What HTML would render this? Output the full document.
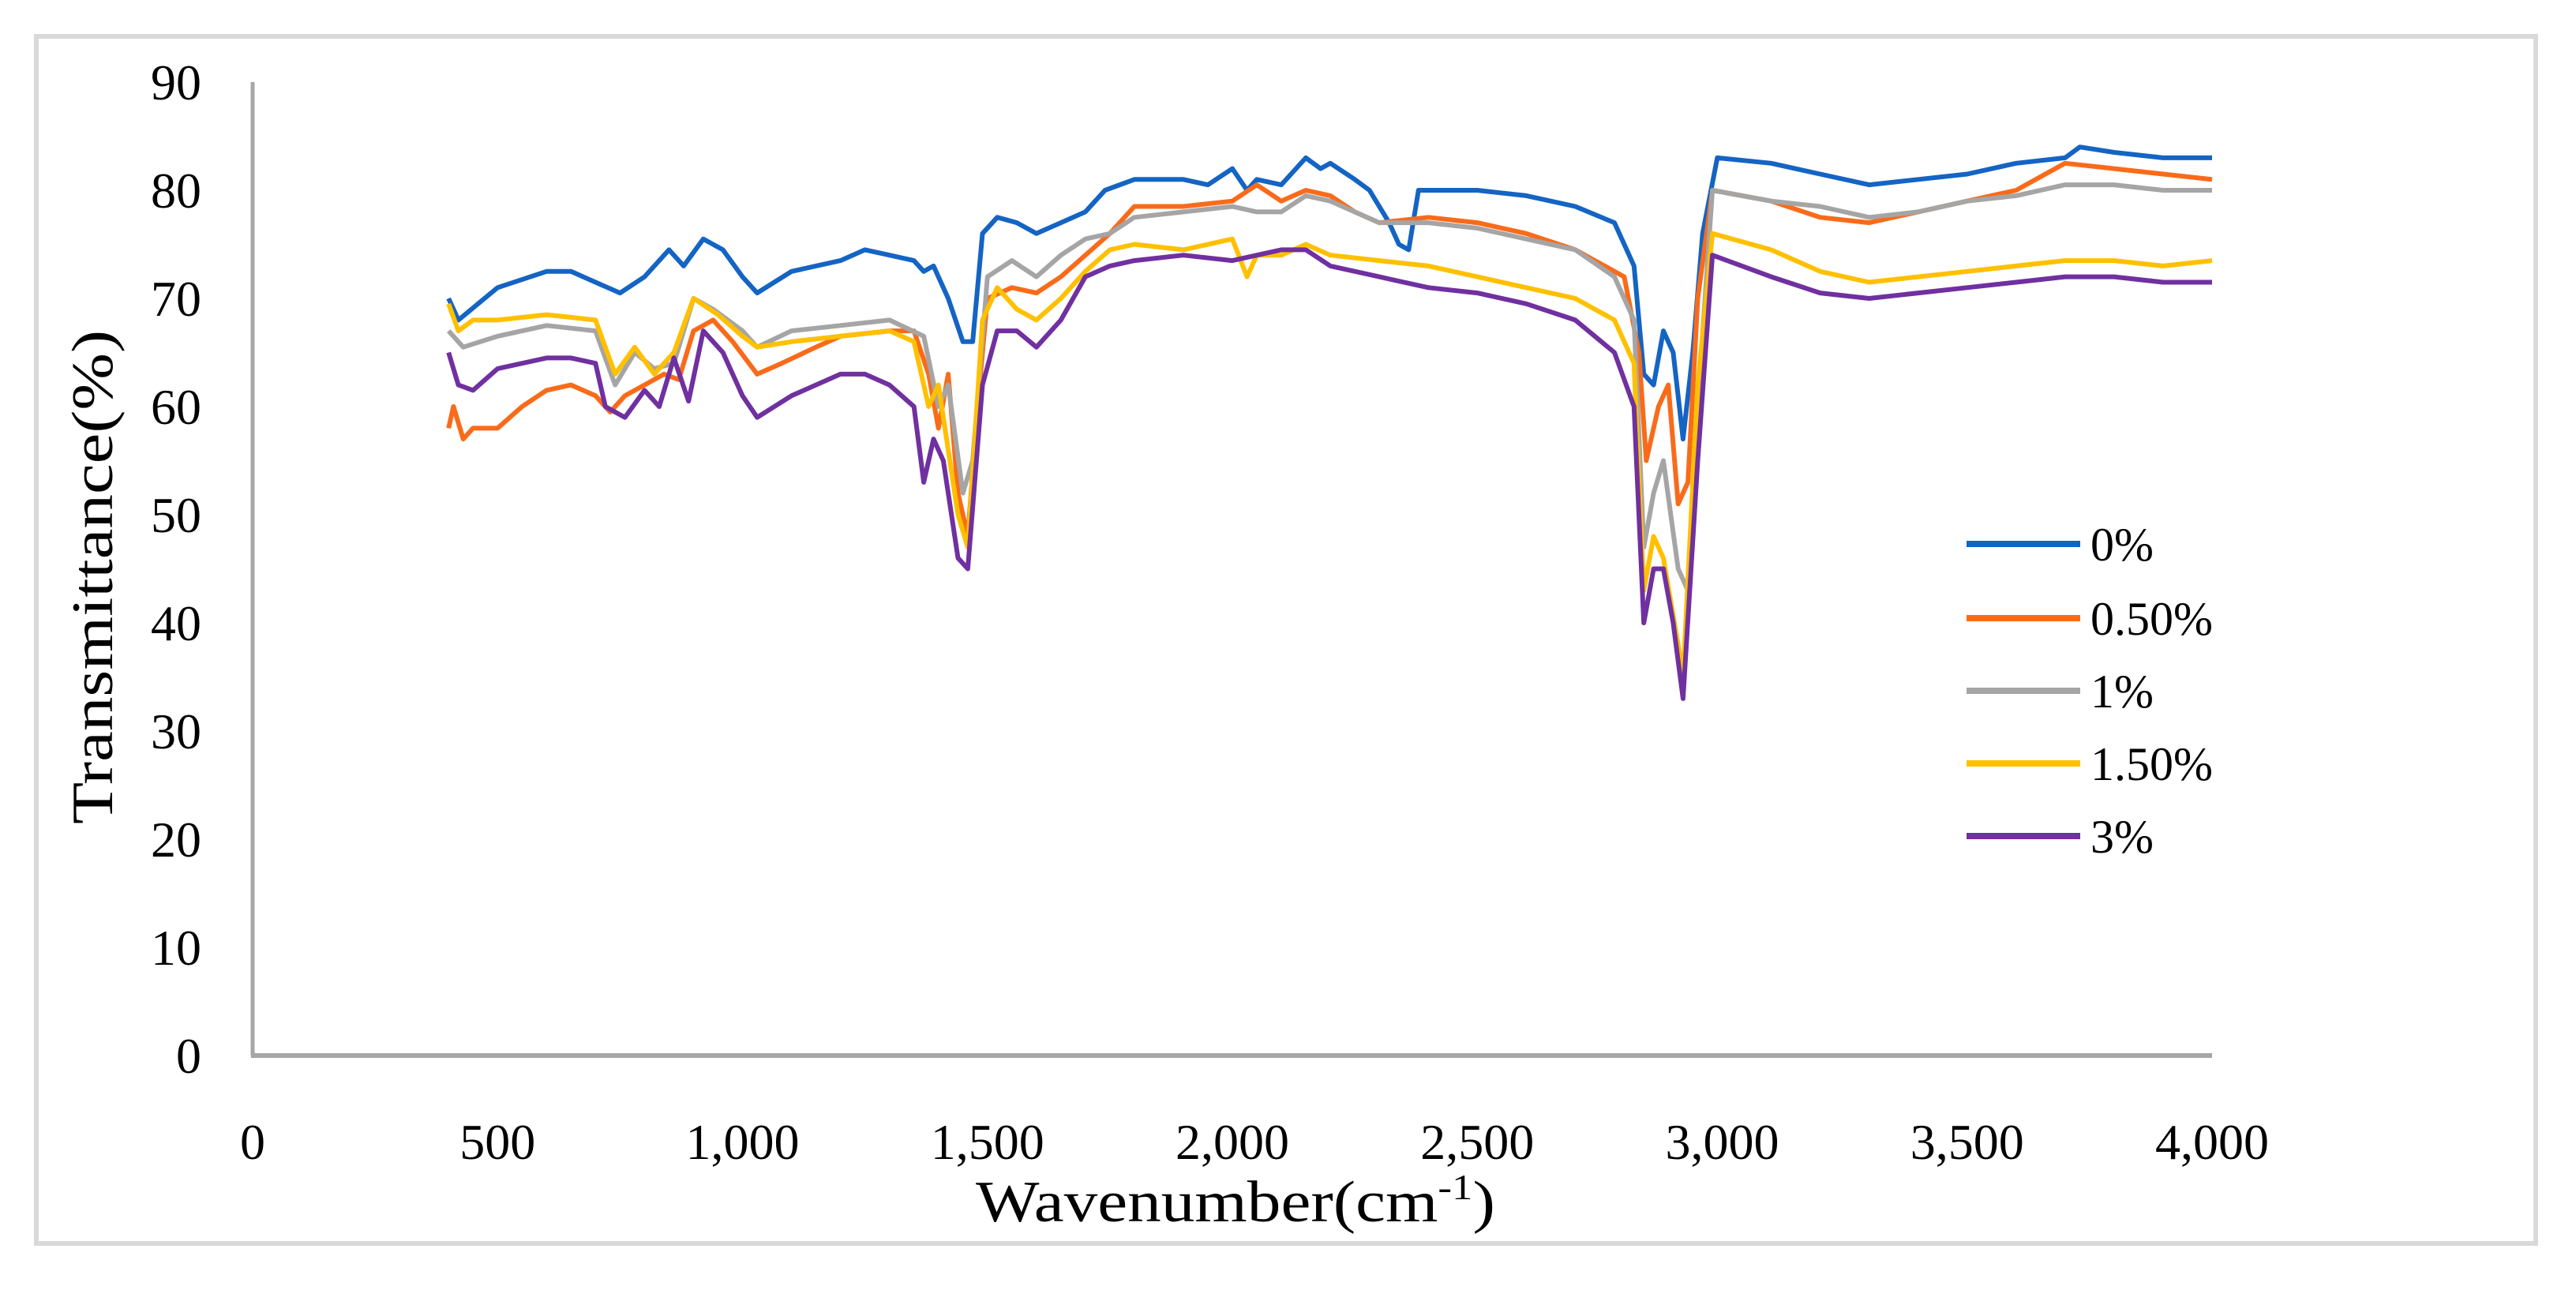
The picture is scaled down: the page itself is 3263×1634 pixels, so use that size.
<!DOCTYPE html>
<html><head><meta charset="utf-8"><style>
html,body{margin:0;padding:0;background:#fff;}
svg{display:block;}
text{font-family:"Liberation Serif",serif;fill:#000;}
</style></head><body>
<svg id="chart" width="3263" height="1634" viewBox="0 0 3263 1634" xmlns="http://www.w3.org/2000/svg">
<rect x="46" y="46" width="3166" height="1529" fill="#fff" stroke="#d9d9d9" stroke-width="6"/>
<g id="axes"></g>
<g id="series"></g>
<g id="legend"></g>
<text transform="translate(142,731) rotate(-90)" text-anchor="middle" font-size="74" textLength="626" lengthAdjust="spacingAndGlyphs">Transmittance(%)</text>
<text x="1236" y="1547" font-size="74" textLength="658" lengthAdjust="spacingAndGlyphs">Wavenumber(cm<tspan font-size="46" dy="-28">-1</tspan><tspan dy="28">)</tspan></text>
</svg>
<script>
const xTicks=[0,500,1000,1500,2000,2500,3000,3500,4000];
const xTickLabels=["0","500","1,000","1,500","2,000","2,500","3,000","3,500","4,000"];
const yTicks=[0,10,20,30,40,50,60,70,80,90];
const seriesNames=["0%","0.50%","1%","1.50%","3%"];
const seriesColors=["#1464c4","#f96b1a","#a5a5a5","#ffc000","#7030a0"];
const wn0=[400,420,500,600,650,700,750,800,850,880,920,960,1000,1030,1100,1200,1250,1300,1350,1370,1390,1420,1450,1470,1490,1520,1560,1600,1650,1700,1740,1800,1900,1950,2000,2030,2050,2100,2150,2180,2200,2250,2280,2320,2340,2360,2380,2500,2600,2700,2780,2820,2840,2860,2880,2900,2920,2940,2960,2990,3100,3200,3300,3400,3500,3600,3700,3730,3800,3900,4000];
const t0=[70,68,71,72.5,72.5,71.5,70.5,72,74.5,73,75.5,74.5,72,70.5,72.5,73.5,74.5,74,73.5,72.5,73,70,66,66,76,77.5,77,76,77,78,80,81,81,80.5,82,80,81,80.5,83,82,82.5,81,80,77,75,74.5,80,80,79.5,78.5,77,73,63,62,67,65,57,65,76,83,82.5,81.5,80.5,81,81.5,82.5,83,84,83.5,83,83];
const wn1=[400,410,430,450,500,550,600,650,700,730,760,800,840,870,900,940,980,1030,1080,1150,1200,1300,1350,1380,1400,1420,1440,1460,1480,1500,1550,1600,1650,1700,1750,1800,1900,2000,2050,2100,2150,2200,2250,2300,2400,2500,2600,2700,2800,2830,2845,2860,2870,2890,2910,2930,2950,2980,3100,3200,3300,3400,3500,3600,3700,3800,3900,4000];
const t1=[58,60,57,58,58,60,61.5,62,61,59.5,61,62,63,62.5,67,68,66,63,64,65.5,66.5,67,67,63,58,63,52,48,60,70,71,70.5,72,74,76,78.5,78.5,79,80.5,79,80,79.5,78,77,77.5,77,76,74.5,72,65,55,58,60,62,51,53,70,80,79,77.5,77,78,79,80,82.5,82,81.5,81];
const wn2=[400,430,500,600,700,740,780,820,860,900,940,1000,1030,1100,1200,1300,1370,1400,1420,1450,1470,1500,1550,1600,1650,1700,1750,1800,1900,2000,2050,2100,2150,2200,2300,2400,2500,2600,2700,2780,2820,2840,2860,2880,2910,2930,2950,2980,3100,3200,3300,3400,3500,3600,3700,3800,3900,4000];
const t2=[67,65.5,66.5,67.5,67,62,65,63.5,64,70,69,67,65.5,67,67.5,68,66.5,60,62,52,55,72,73.5,72,74,75.5,76,77.5,78,78.5,78,78,79.5,79,77,77,76.5,75.5,74.5,72,68,47,52,55,45,43,60,80,79,78.5,77.5,78,79,79.5,80.5,80.5,80,80];
const wn3=[400,420,450,500,600,700,740,780,820,860,900,950,1000,1030,1100,1200,1300,1350,1380,1400,1440,1460,1490,1520,1560,1600,1650,1700,1750,1800,1900,2000,2030,2050,2100,2150,2200,2300,2400,2500,2600,2700,2780,2820,2840,2860,2880,2910,2920,2950,2980,3100,3200,3300,3400,3500,3600,3700,3800,3900,4000];
const t3=[69.5,67,68,68,68.5,68,63,65.5,63,65,70,68.5,66.5,65.5,66,66.5,67,66,60,62,50,47,68,71,69,68,70,72.5,74.5,75,74.5,75.5,72,74,74,75,74,73.5,73,72,71,70,68,64,43,48,46,38,35,62,76,74.5,72.5,71.5,72,72.5,73,73.5,73.5,73,73.5];
const wn4=[400,420,450,500,600,650,700,720,760,800,830,860,890,920,960,1000,1030,1100,1200,1250,1300,1350,1370,1390,1410,1440,1460,1490,1520,1560,1600,1650,1700,1750,1800,1900,2000,2100,2150,2200,2300,2400,2500,2600,2700,2780,2820,2840,2860,2880,2900,2920,2950,2980,3100,3200,3300,3400,3500,3600,3700,3800,3900,4000];
const t4=[65,62,61.5,63.5,64.5,64.5,64,60,59,61.5,60,64.5,60.5,67,65,61,59,61,63,63,62,60,53,57,55,46,45,62,67,67,65.5,68,72,73,73.5,74,73.5,74.5,74.5,73,72,71,70.5,69.5,68,65,60,40,45,45,40,33,55,74,72,70.5,70,70.5,71,71.5,72,72,71.5,71.5];
const allX=[wn0,wn1,wn2,wn3,wn4];
const allY=[t0,t1,t2,t3,t4];

const NS="http://www.w3.org/2000/svg";
const X0=320,X1=2802,Y0=1337,Y1=104;
function sx(v){return X0+(v-0)/(4000-0)*(X1-X0);}
function sy(v){return Y0-(v-0)/(90-0)*(Y0-Y1);}
function mk(tag,attrs,parent){const e=document.createElementNS(NS,tag);for(const k in attrs)e.setAttribute(k,attrs[k]);parent.appendChild(e);return e;}
const axes=document.getElementById('axes');
let yl=mk('line',{x1:X0,y1:Y1,x2:X0,y2:Y0,stroke:'#a6a6a6','stroke-width':5},axes);


let xl=mk('line',{x1:X0-2,y1:Y0,x2:X1,y2:Y0,stroke:'#a6a6a6','stroke-width':6},axes);


yTicks.forEach(v=>{
  const t=mk('text',{x:255,y:sy(v)+22,'text-anchor':'end','font-size':64},axes);
  t.textContent=String(v);
  
  
});
xTicks.forEach((v,i)=>{
  const t=mk('text',{x:sx(v),y:1468,'text-anchor':'middle','font-size':64},axes);
  t.textContent=xTickLabels[i];
  
  
});
const sg=document.getElementById('series');
allX.forEach((xs,i)=>{
  const d=xs.map((x,j)=>(j?'L':'M')+sx(x).toFixed(1)+','+sy(allY[i][j]).toFixed(1)).join(' ');
  const p=mk('path',{d:d,fill:'none',stroke:seriesColors[i],'stroke-width':6,'stroke-linejoin':'round'},sg);
  
  
});
const lg=document.getElementById('legend');
const legY=[689,783,875,967,1059];
seriesNames.forEach((n,i)=>{
  const l=mk('line',{x1:2491,y1:legY[i],x2:2635,y2:legY[i],stroke:seriesColors[i],'stroke-width':8},lg);
  
  
  const t=mk('text',{x:2648,y:legY[i]+21,'font-size':60},lg);
  t.textContent=n;
  
  
});
</script>
</body></html>
